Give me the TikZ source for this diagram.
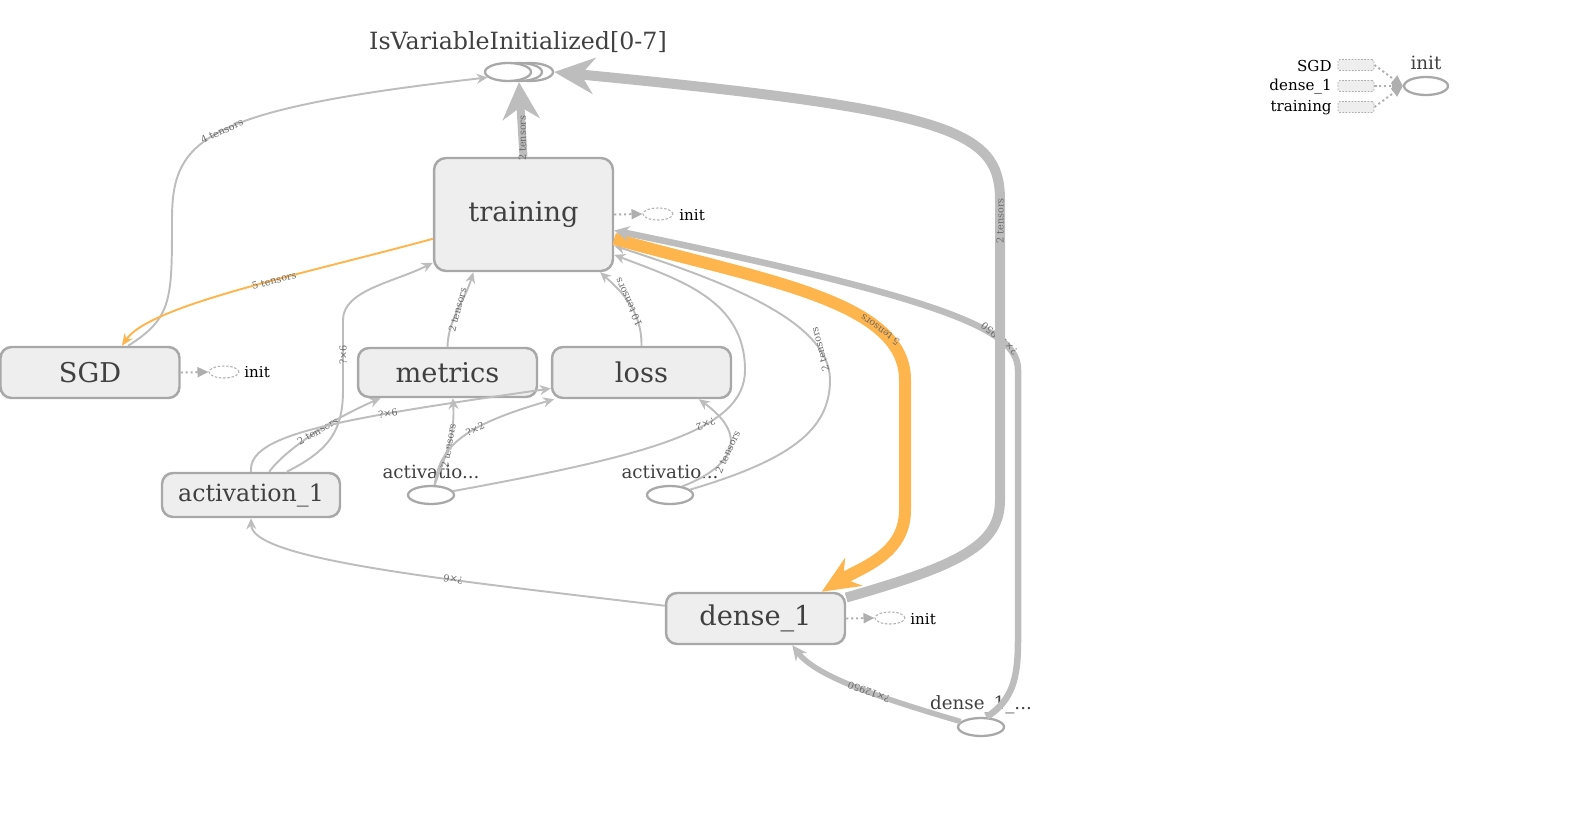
\documentclass[tikz,border=0pt]{standalone}
\usepackage{fontspec}
\setmainfont{DejaVu Serif}
\usetikzlibrary{shapes.geometric,arrows.meta}
\definecolor{edgegray}{RGB}{189,189,189}
\definecolor{nodeline}{RGB}{168,168,168}
\definecolor{nodefill}{RGB}{238,238,238}
\definecolor{nodetext}{RGB}{64,64,64}
\definecolor{labeltext}{RGB}{105,105,105}
\definecolor{tborange}{RGB}{255,181,77}
\definecolor{ctrlline}{RGB}{175,175,175}

\begin{document}
\begin{tikzpicture}%
	[	x={(0.02cm, 0cm)},
	y={(0cm, -0.02cm)},
	groupnode/.style={rectangle, rounded corners=0.22cm, draw=nodeline, fill=nodefill, line width=1.4pt, minimum width=3.58cm, minimum height=1.02cm, inner sep=0pt, text=nodetext, font=\fontsize{15.5}{18}\selectfont},
	opnode/.style={ellipse, draw=nodeline, fill=white, line width=1.3pt, minimum width=0.92cm, minimum height=0.36cm, inner sep=0pt},
	oplabel/.style={inner sep=0pt, text=nodetext, font=\fontsize{10.4}{12}\selectfont},
	ctrlnode/.style={ellipse, draw=ctrlline, dash pattern=on 1.4pt off 1pt, line width=0.6pt, minimum width=0.6cm, minimum height=0.24cm, inner sep=0pt},
	ctrlbox/.style={rectangle, rounded corners=1pt, draw=ctrlline, dash pattern=on 1pt off 0.8pt, fill=nodefill, line width=0.5pt, minimum width=0.72cm, minimum height=0.22cm, inner sep=0pt},
	ctrltext/.style={inner sep=0pt, text=black, font=\fontsize{8.6}{10}\selectfont},
	ctrledge/.style={draw=ctrlline, line width=1.1pt, dash pattern=on 1.2pt off 1.6pt, -{Triangle[length=0.22cm,width=0.2cm]}},
	edge/.style={draw=edgegray, line width=1.1pt, -{Stealth[length=0.22cm,width=0.2cm]}},
	thickedge/.style={draw=edgegray},
	orangeedge/.style={draw=tborange},
	edgelabel/.style={inner sep=0.3pt, text=labeltext, font=\fontsize{5.5}{6}\selectfont}]

\useasboundingbox (0,0) rectangle (1575,837);

\node[groupnode, minimum height=2.26cm, rounded corners=0.24cm] (training) at (523.5,214.5) {training};
\node[groupnode] (sgd) at (90,372.5) {SGD};
\node[groupnode, minimum height=0.98cm] (metrics) at (447.5,372.5) {metrics};
\node[groupnode] (loss) at (641.5,372.5) {loss};
\node[groupnode, minimum width=3.56cm, minimum height=0.88cm, font=\fontsize{13.5}{16}\selectfont] (activation) at (251,495) {activation\_1};
\node[groupnode] (dense) at (755.5,618.5) {dense\_1};

\node[opnode] (ivc) at (530,72) {};
\node[opnode] (ivb) at (519,72) {};
\node[opnode] (iva) at (508,72) {};
\node[oplabel, font=\fontsize{13.5}{15}\selectfont] (ivlabel) at (518,42) {IsVariableInitialized[0-7]};
\node[opnode] (acta) at (431,495) {};
\node[oplabel] (actalabel) at (431,472) {activatio...};
\node[opnode] (actb) at (670,495) {};
\node[oplabel] (actblabel) at (670,472) {activatio...};
\node[opnode] (densevar) at (981,727) {};
\node[oplabel] (densevarlabel) at (981,705) {dense\_1\_...};

\node[ctrlnode] (traininginit) at (658,214) {};
\node[ctrltext, anchor=west] at (679,215) {init};
\node[ctrlnode] (sgdinit) at (224,372) {};
\node[ctrltext, anchor=west] at (244,372) {init};
\node[ctrlnode] (denseinit) at (890,618) {};
\node[ctrltext, anchor=west] at (910,619) {init};

\draw[ctrledge] (training.east) -- (traininginit.west);
\draw[ctrledge] (sgd.east) -- (sgdinit.west);
\draw[ctrledge] (dense.east) -- (denseinit.west);

\node[opnode, minimum width=0.88cm] (init) at (1426,86) {};
\node[oplabel] (initlabel) at (1426,63) {init};
\node[ctrlbox] (legendsgd) at (1356,65) {};
\node[ctrlbox] (legenddense) at (1356,86) {};
\node[ctrlbox] (legendtraining) at (1356,107) {};
\node[ctrltext, anchor=east] at (1332,66) {SGD};
\node[ctrltext, anchor=east] at (1332,87) {dense\_1};
\node[ctrltext, anchor=east] at (1332,108) {training};
\draw[ctrledge] (legendsgd.east) -- (init.west);
\draw[ctrledge] (legenddense.east) -- (init.west);
\draw[ctrledge] (legendtraining.east) -- (init.west);

\draw[edge] (sgd.35) .. controls (172,318) and (172,300) .. (172,220) .. controls (172,140) and (200,110) .. node[edgelabel, pos=0.5, rotate=25] {4 tensors} (iva.195);
\draw[orangeedge, line width=1.1pt, -{Stealth[length=0.24cm,width=0.2cm]}] (training.195) .. controls (300,275) and (150,305) .. node[edgelabel, pos=0.4, rotate=15] {5 tensors} (sgd.40);
\draw[thickedge, line width=0.16cm, -{Stealth[length=0.74cm,width=0.74cm]}] (training.north) -- node[edgelabel, pos=0.25, rotate=90] {2 tensors} (ivb.south);

\draw[edge] (activation.33) .. controls (330,450) and (343,430) .. (343,390) -- node[edgelabel, pos=0.5, rotate=90] {?×6} (343,320) .. controls (343,290) and (395,282) .. (training.208);
\draw[edge] (metrics.north) .. controls (448,320) and (465,300) .. node[edgelabel, pos=0.5, rotate=75] {2 tensors} (training.229);
\draw[edge] (loss.north) .. controls (642,310) and (620,290) .. node[edgelabel, pos=0.5, rotate=115] {10 tensors} (training.-37);
\draw[edge] (acta.10) .. controls (650,455) and (745,430) .. node[edgelabel, pos=0.63, rotate=200] {?×2} (745,370) .. controls (745,300) and (680,280) .. (training.-24);
\draw[edge] (actb.15) .. controls (790,460) and (830,430) .. (830,380) .. controls (830,320) and (720,280) .. node[edgelabel, pos=0.18, rotate=105] {2 tensors} (training.-19);

\draw[edge] (activation.52) .. controls (285,450) and (330,420) .. node[edgelabel, pos=0.55, rotate=30] {2 tensors} (metrics.201);
\draw[edge] (activation.north) .. controls (248,435) and (330,420) .. node[edgelabel, pos=0.7, rotate=10] {?×6} (loss.190);
\draw[edge] (acta.70) .. controls (445,455) and (455,440) .. node[edgelabel, pos=0.5, rotate=80] {2 tensors} (metrics.-78);
\draw[edge] (acta.70) .. controls (440,445) and (465,425) .. node[edgelabel, pos=0.6, rotate=25] {?×2} (loss.197);
\draw[edge] (actb.35) .. controls (725,470) and (755,440) .. node[edgelabel, pos=0.5, rotate=65] {2 tensors} (loss.-25);
\draw[edge] (dense.172) .. controls (450,580) and (252,560) .. node[edgelabel, pos=0.35, rotate=171] {?×6} (activation.south);

\draw[orangeedge, line width=0.24cm, -{Stealth[length=0.75cm,width=0.65cm]}] (training.-15) .. controls (760,280) and (905,300) .. node[edgelabel, pos=0.75, rotate=145] {5 tensors} (905,380) -- (905,510) .. controls (905,555) and (860,568) .. (dense.22);
\draw[thickedge, line width=0.13cm, -{Stealth[length=0.3cm,width=0.3cm]}] (densevar.60) .. controls (1012,700) and (1018,680) .. (1018,640) -- (1018,370) .. controls (1018,330) and (950,300) .. node[edgelabel, pos=0.27, rotate=140] {?×12950} (training.-10);
\draw[thickedge, line width=0.11cm, -{Stealth[length=0.3cm,width=0.28cm]}] (densevar.165) .. controls (870,695) and (815,675) .. node[edgelabel, pos=0.4, rotate=160] {?×12950} (dense.-36);
\draw[thickedge, line width=0.2cm, -{Stealth[length=0.8cm,width=0.72cm]}] (dense.13) .. controls (960,565) and (1000,545) .. (1000,500) -- node[edgelabel, pos=0.93, rotate=90] {2 tensors} (1000,200) .. controls (1000,130) and (950,110) .. (ivc.east);
\end{tikzpicture}
\end{document}
